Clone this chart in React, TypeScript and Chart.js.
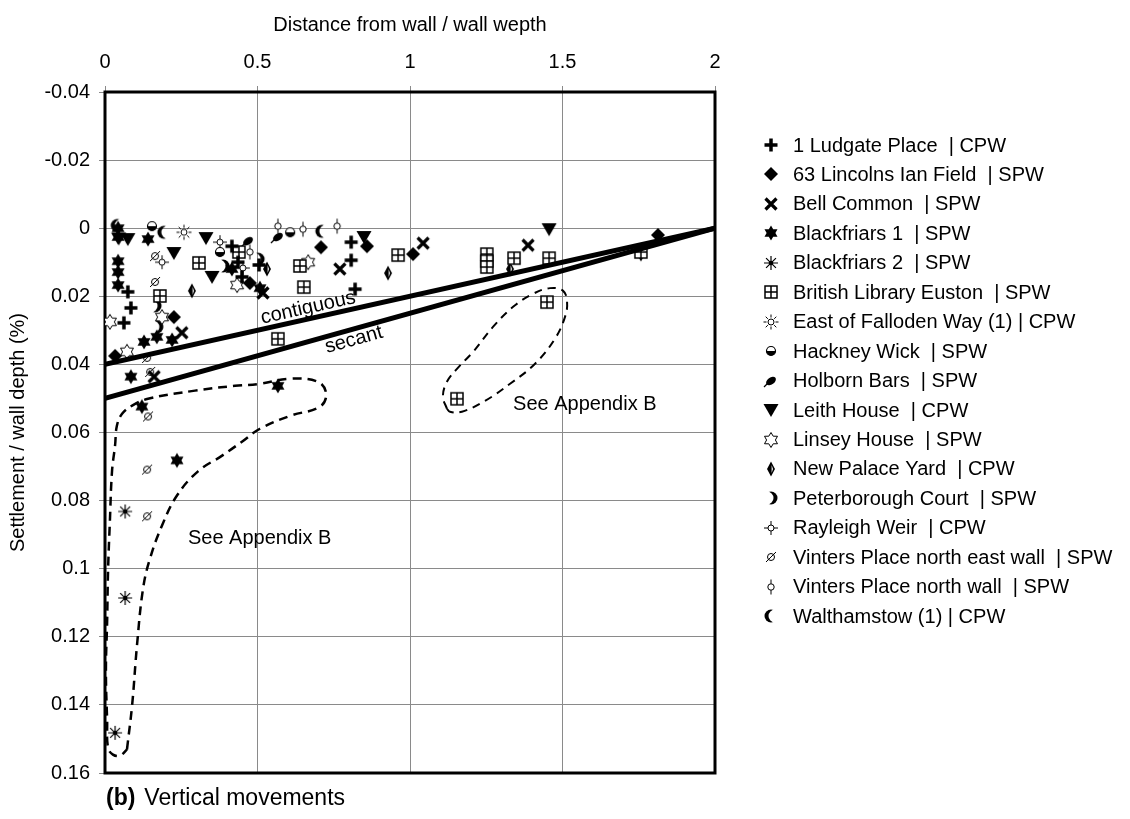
import React, { useEffect, useRef } from "react";
import { Chart, registerables } from "chart.js";
Chart.register(...registerables);

const FONT = '"Liberation Sans", Arial, Helvetica, sans-serif';

// ---------- axis ticks ----------
const xTickValues = [0, 0.5, 1, 1.5, 2];
const xTickLabels = ["0", "0.5", "1", "1.5", "2"];
const yTickValues = [-0.04, -0.02, 0, 0.02, 0.04, 0.06, 0.08, 0.1, 0.12, 0.14, 0.16];
const yTickLabels = ["-0.04", "-0.02", "0", "0.02", "0.04", "0.06", "0.08", "0.1", "0.12", "0.14", "0.16"];

// ---------- series (x = distance / depth, y = settlement / depth %) ----------
const ludgatePlace = [[0.416, 0.0053], [0.436, 0.01], [0.449, 0.0143], [0.075, 0.0187], [0.085, 0.0234], [0.062, 0.0278], [0.807, 0.0041], [0.807, 0.0094], [0.82, 0.0179], [0.505, 0.0108]];
const lincolnsInnField = [[0.475, 0.0161], [0.226, 0.0261], [0.033, 0.0375], [0.708, 0.0056], [0.859, 0.0053], [1.01, 0.0076], [1.813, 0.002]];
const bellCommon = [[0.518, 0.019], [0.252, 0.0307], [0.161, 0.0436], [0.77, 0.012], [1.043, 0.0044], [1.387, 0.005]];
const blackfriars1 = [[0.043, 0.0], [0.043, 0.0026], [0.141, 0.0032], [0.043, 0.0097], [0.043, 0.0129], [0.043, 0.0167], [0.416, 0.012], [0.508, 0.0176], [0.128, 0.0334], [0.17, 0.0319], [0.22, 0.0328], [0.085, 0.0436], [0.121, 0.0524], [0.567, 0.0463], [0.236, 0.0682]];
const blackfriars2 = [[0.066, 0.0832], [0.066, 0.1086], [0.033, 0.1482]];
const britishLibrary = [[0.439, 0.007], [0.308, 0.0102], [0.18, 0.0199], [0.639, 0.0111], [0.652, 0.0173], [0.961, 0.0079], [1.252, 0.0076], [1.252, 0.0097], [1.252, 0.0114], [1.341, 0.0088], [1.456, 0.0088], [1.757, 0.007], [1.449, 0.0217], [0.567, 0.0325], [1.154, 0.0501]];
const eastFalloden = [[0.259, 0.0012]];
const hackneyWick = [[0.154, -0.0006], [0.377, 0.007], [0.607, 0.0012]];
const holbornBars = [[0.469, 0.0038], [0.567, 0.0026]];
const leithHouse = [[0.075, 0.0032], [0.331, 0.0029], [0.226, 0.0073], [0.351, 0.0143], [0.849, 0.0026], [1.456, 0.0003], [0.045, 0.003]];
const linseyHouse = [[0.433, 0.0167], [0.187, 0.0261], [0.016, 0.0275], [0.072, 0.0363], [0.666, 0.01]];
const newPalaceYard = [[0.285, 0.0184], [0.531, 0.012], [0.928, 0.0132], [1.328, 0.012], [1.757, 0.0076]];
const peterboroughCourt = [[0.387, 0.0111], [0.502, 0.0091], [0.164, 0.0228], [0.17, 0.029]];
const rayleighWeir = [[0.377, 0.0041], [0.452, 0.0117], [0.187, 0.01]];
const vintersNorthEast = [[0.164, 0.0082], [0.164, 0.0158], [0.138, 0.0381], [0.148, 0.0422], [0.141, 0.0553], [0.138, 0.0709], [0.138, 0.0846]];
const vintersNorth = [[0.475, 0.007], [0.567, -0.0006], [0.649, 0.0003], [0.761, -0.0006]];
const walthamstow = [[0.193, 0.0012], [0.711, 0.0009], [0.04, -0.0008]];

const seriesLabels = [
  "1 Ludgate Place  | CPW",
  "63 Lincolns Ian Field  | SPW",
  "Bell Common  | SPW",
  "Blackfriars 1  | SPW",
  "Blackfriars 2  | SPW",
  "British Library Euston  | SPW",
  "East of Falloden Way (1) | CPW",
  "Hackney Wick  | SPW",
  "Holborn Bars  | SPW",
  "Leith House  | CPW",
  "Linsey House  | SPW",
  "New Palace Yard  | CPW",
  "Peterborough Court  | SPW",
  "Rayleigh Weir  | CPW",
  "Vinters Place north east wall  | SPW",
  "Vinters Place north wall  | SPW",
  "Walthamstow (1) | CPW",
];
const seriesData = [
  ludgatePlace, lincolnsInnField, bellCommon, blackfriars1, blackfriars2, britishLibrary,
  eastFalloden, hackneyWick, holbornBars, leithHouse, linseyHouse, newPalaceYard,
  peterboroughCourt, rayleighWeir, vintersNorthEast, vintersNorth, walthamstow,
];
const markerKinds = [
  "plus", "diamond", "cross", "star6", "asterisk", "grid", "sun", "halfCircle", "leaf",
  "triDown", "star6open", "narrowDiamond", "crescentRight", "spokeCircle", "slashCircle",
  "stemCircle", "crescentLeft",
];

// ---------- trend lines and outlines ----------
const contiguousLine = [[0, 0.04], [2, 0]];
const secantLine = [[0, 0.05], [2, 0]];
const appendixLoopLeft = [
  [0.072, 0.1531], [0.089, 0.14], [0.105, 0.1224], [0.125, 0.1057], [0.148, 0.0969], [0.187, 0.0873],
  [0.236, 0.0785], [0.305, 0.0714], [0.384, 0.0668], [0.449, 0.0627], [0.508, 0.0589], [0.607, 0.0551],
  [0.705, 0.0524], [0.725, 0.0486], [0.698, 0.0451], [0.607, 0.0442], [0.508, 0.0457], [0.426, 0.0463],
  [0.295, 0.0477], [0.141, 0.0501], [0.089, 0.0521], [0.056, 0.0545], [0.039, 0.058], [0.033, 0.0638],
  [0.023, 0.0714], [0.016, 0.0861], [0.01, 0.1007], [0.007, 0.1154], [0.003, 0.13], [0.007, 0.1447],
  [0.01, 0.1526], [0.026, 0.1546], [0.049, 0.1549], [0.072, 0.1531],
];
const appendixLoopRight = [
  [1.121, 0.053], [1.108, 0.0495], [1.121, 0.0451], [1.154, 0.0413], [1.207, 0.0363], [1.272, 0.029],
  [1.338, 0.0231], [1.403, 0.0193], [1.459, 0.0176], [1.502, 0.0184], [1.515, 0.0217], [1.508, 0.0261],
  [1.475, 0.0325], [1.41, 0.0398], [1.328, 0.0457], [1.246, 0.0507], [1.17, 0.0539], [1.131, 0.0539],
  [1.121, 0.053],
];

// ---------- markers ----------
function makeMarker(kind: string): HTMLCanvasElement {
  const s = 18;
  const c = s / 2;
  const cv = document.createElement("canvas");
  cv.width = s;
  cv.height = s;
  const g = cv.getContext("2d") as CanvasRenderingContext2D;
  g.fillStyle = "#000";
  g.strokeStyle = "#000";
  const star = (R: number, r: number) => {
    g.beginPath();
    for (let i = 0; i < 12; i++) {
      const rad = i % 2 === 0 ? R : r;
      const a = (-90 + i * 30) * Math.PI / 180;
      const px = c + rad * Math.cos(a);
      const py = c + rad * Math.sin(a);
      if (i === 0) g.moveTo(px, py); else g.lineTo(px, py);
    }
    g.closePath();
  };
  switch (kind) {
    case "plus":
      g.lineWidth = 3.5;
      g.beginPath();
      g.moveTo(c - 6.5, c); g.lineTo(c + 6.5, c);
      g.moveTo(c, c - 6.5); g.lineTo(c, c + 6.5);
      g.stroke();
      break;
    case "diamond":
      g.beginPath();
      g.moveTo(c, c - 7); g.lineTo(c + 7, c); g.lineTo(c, c + 7); g.lineTo(c - 7, c);
      g.closePath(); g.fill();
      break;
    case "cross":
      g.lineWidth = 3.2;
      g.beginPath();
      g.moveTo(c - 5.5, c - 5.5); g.lineTo(c + 5.5, c + 5.5);
      g.moveTo(c + 5.5, c - 5.5); g.lineTo(c - 5.5, c + 5.5);
      g.stroke();
      break;
    case "star6":
      star(7.5, 4.4); g.fill();
      break;
    case "star6open":
      star(7.5, 4.4); g.fillStyle = "#fff"; g.fill(); g.lineWidth = 1; g.stroke();
      break;
    case "asterisk":
      g.lineWidth = 1.2;
      g.beginPath();
      for (let i = 0; i < 4; i++) {
        const a = i * Math.PI / 4;
        g.moveTo(c - 7 * Math.cos(a), c - 7 * Math.sin(a));
        g.lineTo(c + 7 * Math.cos(a), c + 7 * Math.sin(a));
      }
      g.stroke();
      g.beginPath(); g.arc(c, c, 2.3, 0, Math.PI * 2); g.fill();
      break;
    case "grid":
      g.lineWidth = 1.5;
      g.fillStyle = "#fff";
      g.fillRect(c - 6, c - 6, 12, 12);
      g.strokeRect(c - 6, c - 6, 12, 12);
      g.beginPath();
      g.moveTo(c - 6, c); g.lineTo(c + 6, c);
      g.moveTo(c, c - 6); g.lineTo(c, c + 6);
      g.stroke();
      break;
    case "sun":
      g.lineWidth = 1;
      g.beginPath(); g.arc(c, c, 3, 0, Math.PI * 2); g.stroke();
      g.beginPath();
      for (let i = 0; i < 8; i++) {
        const a = i * Math.PI / 4;
        g.moveTo(c + 4.5 * Math.cos(a), c + 4.5 * Math.sin(a));
        g.lineTo(c + 7.5 * Math.cos(a), c + 7.5 * Math.sin(a));
      }
      g.stroke();
      break;
    case "halfCircle":
      g.lineWidth = 1.2;
      g.beginPath(); g.arc(c, c, 4.5, 0, Math.PI * 2); g.fillStyle = "#fff"; g.fill(); g.stroke();
      g.fillStyle = "#000";
      g.beginPath(); g.arc(c, c, 4.5, 0, Math.PI); g.closePath(); g.fill();
      break;
    case "leaf":
      g.save();
      g.translate(c, c); g.rotate(-Math.PI / 5);
      g.beginPath(); g.ellipse(0, 0, 5.5, 3.5, 0, 0, Math.PI * 2); g.fill();
      g.restore();
      g.lineWidth = 1.2;
      g.beginPath(); g.moveTo(c - 7, c + 6); g.lineTo(c - 3, c + 2); g.stroke();
      break;
    case "triDown":
      g.beginPath();
      g.moveTo(c - 7.5, c - 6); g.lineTo(c + 7.5, c - 6); g.lineTo(c, c + 7);
      g.closePath(); g.fill();
      break;
    case "narrowDiamond":
      g.beginPath();
      g.moveTo(c, c - 7.5); g.lineTo(c + 4, c); g.lineTo(c, c + 7.5); g.lineTo(c - 4, c);
      g.closePath(); g.fill();
      g.fillStyle = "#fff";
      g.beginPath();
      g.moveTo(c + 0.6, c - 4); g.lineTo(c + 2, c); g.lineTo(c + 0.6, c + 4);
      g.closePath(); g.fill();
      break;
    case "crescentRight":
      g.beginPath(); g.arc(c, c, 6.5, 0, Math.PI * 2); g.fill();
      g.globalCompositeOperation = "destination-out";
      g.beginPath(); g.arc(c - 4, c, 6.5, 0, Math.PI * 2); g.fill();
      g.globalCompositeOperation = "source-over";
      break;
    case "crescentLeft":
      g.beginPath(); g.arc(c, c, 6.5, 0, Math.PI * 2); g.fill();
      g.globalCompositeOperation = "destination-out";
      g.beginPath(); g.arc(c + 4, c, 6.5, 0, Math.PI * 2); g.fill();
      g.globalCompositeOperation = "source-over";
      break;
    case "spokeCircle":
      g.lineWidth = 1;
      g.beginPath(); g.arc(c, c, 3, 0, Math.PI * 2); g.fillStyle = "#fff"; g.fill(); g.stroke();
      g.beginPath();
      g.moveTo(c - 7, c); g.lineTo(c - 3, c);
      g.moveTo(c + 3, c); g.lineTo(c + 7, c);
      g.moveTo(c, c - 7); g.lineTo(c, c - 3);
      g.moveTo(c, c + 3); g.lineTo(c, c + 7);
      g.stroke();
      break;
    case "slashCircle":
      g.lineWidth = 1;
      g.beginPath(); g.arc(c, c, 3.5, 0, Math.PI * 2); g.stroke();
      g.beginPath(); g.moveTo(c - 5, c + 5); g.lineTo(c + 5, c - 5); g.stroke();
      break;
    case "stemCircle":
      g.lineWidth = 1;
      g.beginPath(); g.arc(c, c, 3.2, 0, Math.PI * 2); g.fillStyle = "#fff"; g.fill(); g.stroke();
      g.beginPath();
      g.moveTo(c, c - 7.5); g.lineTo(c, c - 3.2);
      g.moveTo(c, c + 3.2); g.lineTo(c, c + 7.5);
      g.stroke();
      break;
  }
  return cv;
}

const toXY = (arr: number[][]) => arr.map(([x, y]) => ({ x, y }));

export default function App() {
  const ref = useRef<HTMLCanvasElement | null>(null);

  useEffect(() => {
    const canvas = ref.current;
    if (!canvas) return;
    const markers = markerKinds.map(makeMarker);

    const lineDataset = (data: number[][], width: number, dash: number[], tension: number) => ({
      type: "line" as const,
      data: toXY(data),
      borderColor: "#000",
      borderWidth: width,
      borderDash: dash,
      pointRadius: 0,
      pointHoverRadius: 0,
      showLine: true,
      fill: false,
      tension,
      order: -1,
    });

    const pointDatasets = seriesData.map((d, i) => ({
      type: "scatter" as const,
      label: seriesLabels[i],
      data: toXY(d),
      pointStyle: markers[i],
      pointRadius: 7,
      showLine: false,
      order: 0,
    }));

    const overlay = {
      id: "overlay",
      beforeDatasetsDraw(chart: any) {
        const { ctx, chartArea: a } = chart;
        ctx.save();
        ctx.strokeStyle = "#000";
        ctx.lineWidth = 3;
        ctx.strokeRect(a.left, a.top, a.right - a.left, a.bottom - a.top);
        ctx.restore();
      },
      afterDraw(chart: any) {
        const { ctx, scales } = chart;
        const xs = scales.x;
        const ys = scales.y;
        const px = (v: number) => xs.getPixelForValue(v);
        const py = (v: number) => ys.getPixelForValue(v);
        ctx.save();
        ctx.fillStyle = "#000";
        ctx.font = `20px ${FONT}`;
        ctx.textAlign = "center";
        ctx.textBaseline = "middle";
        const angleOf = (l: number[][]) =>
          Math.atan2(py(l[1][1]) - py(l[0][1]), px(l[1][0]) - px(l[0][0]));
        // contiguous label
        ctx.save();
        ctx.translate(px(0.666), py(0.0234));
        ctx.rotate(angleOf(contiguousLine));
        ctx.fillText("contiguous", 0, 0);
        ctx.restore();
        // secant label
        ctx.save();
        ctx.translate(px(0.816), py(0.0328));
        ctx.rotate(angleOf(secantLine));
        ctx.fillText("secant", 0, 0);
        ctx.restore();
        // appendix notes
        ctx.textAlign = "left";
        ctx.fillText("See Appendix B", px(0.272), py(0.091));
        ctx.fillText("See Appendix B", px(1.338), py(0.0518));
        // legend
        const lx = 771;
        const ly0 = 145;
        const step = 29.45;
        seriesLabels.forEach((lab, i) => {
          const yy = ly0 + i * step;
          const m = markers[i];
          ctx.drawImage(m, Math.round(lx - m.width / 2), Math.round(yy - m.height / 2));
          ctx.textAlign = "left";
          ctx.fillText(lab, 793, yy + 1);
        });
        // caption
        ctx.font = `bold 23px ${FONT}`;
        ctx.fillText("(b)", 106, 799);
        const w = ctx.measureText("(b)").width;
        ctx.font = `23px ${FONT}`;
        ctx.fillText("Vertical movements", 106 + w + 9, 799);
        ctx.restore();
      },
    };

    const chart = new Chart(canvas, {
      type: "scatter",
      data: {
        datasets: [
          lineDataset(contiguousLine, 5, [], 0),
          lineDataset(secantLine, 5, [], 0),
          lineDataset(appendixLoopLeft, 2.5, [9, 6], 0.4),
          lineDataset(appendixLoopRight, 2, [8, 6], 0.4),
          ...pointDatasets,
        ] as any,
      },
      options: {
        responsive: false,
        animation: false,
        devicePixelRatio: 1,
        layout: { padding: { left: 0, top: 0, right: 415, bottom: 46 } },
        plugins: { legend: { display: false }, tooltip: { enabled: false } },
        scales: {
          x: {
            type: "linear",
            position: "top",
            min: 0,
            max: 2,
            afterFit: (s: any) => { s.height = 92; },
            afterBuildTicks: (s: any) => { s.ticks = xTickValues.map((v) => ({ value: v })); },
            ticks: {
              color: "#000",
              font: { family: FONT, size: 20 },
              padding: 12,
              maxRotation: 0,
              callback: (v: any) => {
                const i = xTickValues.findIndex((t) => Math.abs(t - v) < 1e-9);
                return i >= 0 ? xTickLabels[i] : "";
              },
            },
            grid: { color: "#8a8a8a", lineWidth: 1, tickLength: 6, drawTicks: true },
            border: { display: false },
            title: {
              display: true,
              text: "Distance from wall / wall wepth",
              color: "#000",
              font: { family: FONT, size: 20 },
              padding: { top: 13, bottom: 0 },
            },
          },
          y: {
            type: "linear",
            position: "left",
            reverse: true,
            min: -0.04,
            max: 0.16,
            afterFit: (s: any) => { s.width = 105; },
            afterBuildTicks: (s: any) => { s.ticks = yTickValues.map((v) => ({ value: v })); },
            ticks: {
              color: "#000",
              font: { family: FONT, size: 20 },
              padding: 9,
              callback: (v: any) => {
                const i = yTickValues.findIndex((t) => Math.abs(t - v) < 1e-9);
                return i >= 0 ? yTickLabels[i] : "";
              },
            },
            grid: { color: "#8a8a8a", lineWidth: 1, tickLength: 6, drawTicks: true },
            border: { display: false },
            title: {
              display: true,
              text: "Settlement / wall depth (%)",
              color: "#000",
              font: { family: FONT, size: 20 },
              padding: { top: 6, bottom: 0 },
            },
          },
        },
      } as any,
      plugins: [overlay],
    });
    return () => chart.destroy();
  }, []);

  return (
    <div style={{ position: "absolute", left: 0, top: 0, width: 1130, height: 819, background: "#fff" }}>
      <canvas ref={ref} width={1130} height={819} style={{ display: "block" }} />
    </div>
  );
}
